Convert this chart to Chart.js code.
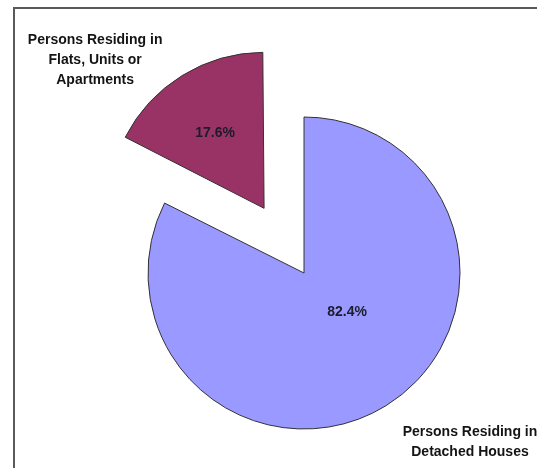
<!DOCTYPE html>
<html>
<head>
<meta charset="utf-8">
<script src="https://cdn.jsdelivr.net/npm/chart.js@4"></script>
<style>
  html, body { margin: 0; padding: 0; background: #ffffff; }
  #wrap { width: 537px; height: 468px; position: relative; }
</style>
</head>
<body>
<div id="wrap"><canvas id="c" width="537" height="468"></canvas></div>
<script>
// Dwelling type of residents
const categories = [
  ['Persons Residing in', 'Detached Houses'],
  ['Persons Residing in', 'Flats, Units or', 'Apartments']
];
const shares = [82.4, 17.6];
const sliceColors = ['#9999FF', '#993366'];
const explode = [0, 304];   // Chart.js moves a slice by offset/4 px

const PIE_RADIUS = 156;

// Where each slice's text sits, in multiples of the radius from the slice apex
const percentPos = [[0.276, 0.253], [-0.314, -0.484]];
const namePos = [[1.064, 1.083], [-1.083, -0.949]];

// Page frame, partly running off the right and bottom edges
const framePlugin = {
  id: 'frame',
  beforeDraw(chart) {
    const ctx = chart.ctx;
    ctx.save();
    ctx.fillStyle = '#ffffff';
    ctx.fillRect(0, 0, chart.width, chart.height);
    ctx.strokeStyle = '#5a5a5a';
    ctx.lineWidth = 2;
    ctx.strokeRect(14, 8, 700, 700);
    ctx.restore();
  }
};

// An exploded arc is drawn slightly larger by Chart.js; keep all slices the same size
const evenRadiusPlugin = {
  id: 'evenRadius',
  beforeDatasetsDraw(chart) {
    chart.getDatasetMeta(0).data.forEach((arc, i) => {
      const off = (explode[i] || 0) / 4;
      const fix = 1 - Math.sin(Math.min(Math.PI, arc.circumference || 0));
      arc.outerRadius = PIE_RADIUS - off * fix;
    });
  }
};

function apexOf(arc, off) {
  const mid = (arc.startAngle + arc.endAngle) / 2;
  return { x: arc.x + Math.cos(mid) * off / 4, y: arc.y + Math.sin(mid) * off / 4 };
}

const labelPlugin = {
  id: 'sliceLabels',
  afterDatasetsDraw(chart) {
    const ctx = chart.ctx;
    const meta = chart.getDatasetMeta(0);
    ctx.save();
    ctx.textAlign = 'center';
    ctx.textBaseline = 'middle';
    ctx.font = 'bold 14px "Liberation Sans", Arial, sans-serif';
    meta.data.forEach((arc, i) => {
      const r = PIE_RADIUS;
      const a = apexOf(arc, explode[i]);
      ctx.fillStyle = '#1c1c2c';
      ctx.fillText(shares[i].toFixed(1) + '%', a.x + percentPos[i][0] * r, a.y + percentPos[i][1] * r);
      const lines = categories[i];
      const cx = a.x + namePos[i][0] * r;
      const cy = a.y + namePos[i][1] * r;
      const lh = 20;
      ctx.fillStyle = '#141414';
      lines.forEach((t, k) => {
        ctx.fillText(t, cx, cy + (k - (lines.length - 1) / 2) * lh);
      });
    });
    ctx.restore();
  }
};

new Chart(document.getElementById('c'), {
  type: 'pie',
  data: {
    labels: categories.map(c => c.join(' ')),
    datasets: [{
      data: shares,
      backgroundColor: sliceColors,
      borderColor: '#333333',
      borderWidth: 1,
      offset: explode,
      hoverOffset: 0
    }]
  },
  options: {
    responsive: false,
    animation: false,
    radius: PIE_RADIUS,
    layout: { padding: { left: 71, top: 78, right: 0, bottom: 0 } },
    plugins: {
      legend: { display: false },
      tooltip: { enabled: false }
    },
    events: []
  },
  plugins: [framePlugin, evenRadiusPlugin, labelPlugin]
});
</script>
</body>
</html>
